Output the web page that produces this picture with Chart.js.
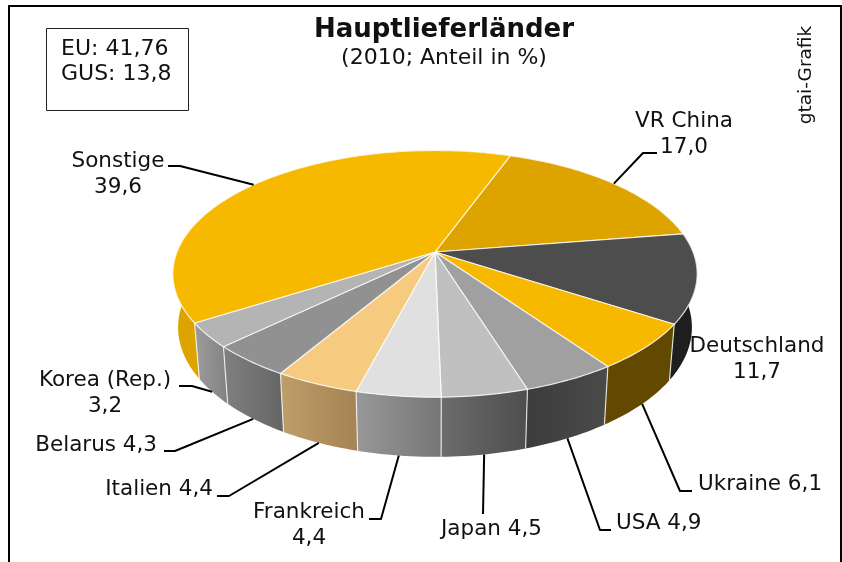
<!DOCTYPE html>
<html><head><meta charset="utf-8">
<script src="https://cdn.jsdelivr.net/npm/chart.js@4"></script>
<style>html,body{margin:0;padding:0;background:#fff}canvas{display:block}</style>
</head><body>
<canvas id="c" width="842" height="562"></canvas>
<script>
const categories = ["VR China","Deutschland","Ukraine","USA","Japan","Frankreich","Italien","Belarus","Korea (Rep.)","Sonstige"];
const shares = [17.0,11.7,6.1,4.9,4.5,4.4,4.4,4.3,3.2,39.6];
const topColors = ["#DDA400","#4D4D4D","#F7B900","#A0A0A0","#C0C0C0","#E0E0E0","#F6CB80","#919191","#B4B4B4","#F7B900"];
const wallLeft  = ["#DDA400","#1E1E1E","#634800","#3C3C3C","#6C6C6C","#989898","#BE9E68","#808080","#9C9C9C","#DDA400"];
const wallRight = ["#DDA400","#1E1E1E","#634800","#4A4A4A","#4E4E4E","#767676","#A58355","#656565","#828282","#DDA400"];
const titleText = "Hauptlieferländer";
const subtitleText = "(2010; Anteil in %)";
const sourceText = "gtai-Grafik";
const noteLines = ["EU: 41,76","GUS: 13,8"];

const fmt = v => v.toFixed(1).replace(".", ",");
const FONT = '"DejaVu Sans"';

/* perspective of the pie: front edge is nearer to the viewer */
const persp = {k:0.177, ax:1.028, ay:0.476, wallX:0.98, wallY:1.05, wallD:52.4};
function rim(arc, a){
  const u=Math.cos(a), v=Math.sin(a), w=1-persp.k*v, R=arc.outerRadius;
  return {x:arc.x+persp.ax*R*u/w, y:arc.y+persp.ay*R*v/w};
}
function floor(arc, a){
  const p=rim(arc,a);
  return {x:arc.x+(p.x-arc.x)*persp.wallX, y:arc.y+(p.y-arc.y)*persp.wallY+persp.wallD};
}
function samples(arc){
  const n=Math.max(2,Math.ceil((arc.endAngle-arc.startAngle)/0.02)), out=[];
  for(let i=0;i<=n;i++) out.push(arc.startAngle+(arc.endAngle-arc.startAngle)*i/n);
  return out;
}
const EDGE='rgba(255,255,255,0.78)';

/* how each label sits: text lines with anchor, leader bends, end on rim or wall bottom */
const labelLayout = [
 {lines:[[684,121,'center',0],[684,147,'center',1]], bends:[[657,153],[643,153]], on:'rim'},
 {lines:[[757,346,'center',0],[757,372,'center',1]], bends:null},
 {lines:[[698,484,'left',2]], bends:[[692,491],[680,491]], on:'floor'},
 {lines:[[616,523,'left',2]], bends:[[611,530],[600,530]], on:'floor'},
 {lines:[[441,529,'left',2]], bends:[[483,514]], on:'floor'},
 {lines:[[309,512,'center',0],[309,538,'center',1]], bends:[[369,519],[381,519]], on:'floor'},
 {lines:[[213,489,'right',2]], bends:[[217,496],[229,496]], on:'floor'},
 {lines:[[157,445,'right',2]], bends:[[164,451],[175,451]], on:'floor'},
 {lines:[[105,380,'center',0],[105,406,'center',1]], bends:[[179,386],[192,386]], on:'floor'},
 {lines:[[118,161,'center',0],[118,187,'center',1]], bends:[[168,166],[180,166]], on:'rim'}
];

const pie3d = {
  id:'pie3d',
  beforeDatasetsDraw(chart){
    const ctx=chart.ctx, arcs=chart.getDatasetMeta(0).data;
    ctx.save();
    /* frame */
    ctx.strokeStyle='#000';ctx.lineWidth=2;
    ctx.beginPath();ctx.moveTo(9,562);ctx.lineTo(9,6);ctx.lineTo(841,6);ctx.lineTo(841,562);ctx.stroke();

    /* walls */
    arcs.forEach((arc,i)=>{
      const as=samples(arc), top=as.map(a=>rim(arc,a)), bot=as.map(a=>floor(arc,a));
      const xs=top.concat(bot).map(p=>p.x);
      const g=ctx.createLinearGradient(Math.min(...xs),0,Math.max(...xs),0);
      g.addColorStop(0,wallLeft[i]);g.addColorStop(1,wallRight[i]);
      ctx.fillStyle=g;
      ctx.beginPath();
      top.forEach((p,j)=>j?ctx.lineTo(p.x,p.y):ctx.moveTo(p.x,p.y));
      bot.reverse().forEach(p=>ctx.lineTo(p.x,p.y));
      ctx.closePath();ctx.fill();
    });
    /* wall seams */
    ctx.strokeStyle=EDGE;ctx.lineWidth=1.2;
    arcs.forEach(arc=>{
      const a=rim(arc,arc.startAngle), b=floor(arc,arc.startAngle);
      ctx.beginPath();ctx.moveTo(a.x,a.y);ctx.lineTo(b.x,b.y);ctx.stroke();
    });
    /* top faces */
    arcs.forEach((arc,i)=>{
      ctx.fillStyle=topColors[i];
      ctx.strokeStyle=EDGE;ctx.lineWidth=1.2;
      ctx.beginPath();ctx.moveTo(arc.x,arc.y);
      samples(arc).forEach(a=>{const p=rim(arc,a);ctx.lineTo(p.x,p.y);});
      ctx.closePath();ctx.fill();ctx.stroke();
    });

    /* leaders */
    ctx.strokeStyle='#000';ctx.lineWidth=2;ctx.lineJoin='round';
    arcs.forEach((arc,i)=>{
      const L=labelLayout[i];
      if(!L.bends) return;
      const mid=(arc.startAngle+arc.endAngle)/2;
      const end=L.on==='rim'?rim(arc,mid):floor(arc,mid);
      ctx.beginPath();
      L.bends.forEach((b,j)=>j?ctx.lineTo(b[0],b[1]):ctx.moveTo(b[0],b[1]));
      ctx.lineTo(end.x,end.y);ctx.stroke();
    });

    /* labels */
    ctx.fillStyle='#111';ctx.textBaseline='middle';
    ctx.font='21.5px '+FONT;
    labelLayout.forEach((L,i)=>{
      L.lines.forEach(([x,y,al,kind])=>{
        ctx.textAlign=al;
        const t=kind===0?categories[i]:kind===1?fmt(shares[i]):categories[i]+' '+fmt(shares[i]);
        ctx.fillText(t,x,y);
      });
    });

    /* headings */
    ctx.textAlign='center';
    ctx.font='bold 26px '+FONT;ctx.fillText(titleText,444,30);
    ctx.font='22px '+FONT;ctx.fillText(subtitleText,444,58);

    /* note box */
    ctx.strokeStyle='#222';ctx.lineWidth=1;ctx.strokeRect(46.5,28.5,142,82);
    ctx.textAlign='left';
    ctx.fillText(noteLines[0],61,49);ctx.fillText(noteLines[1],61,74);

    /* source */
    ctx.translate(806,75);ctx.rotate(-Math.PI/2);
    ctx.textAlign='center';ctx.font='18.5px '+FONT;
    ctx.fillText(sourceText,0,0);
    ctx.restore();
    return false;
  }
};

new Chart(document.getElementById('c'),{
  type:'pie',
  data:{labels:categories,datasets:[{data:shares,backgroundColor:topColors}]},
  plugins:[pie3d],
  options:{
    responsive:false,animation:false,rotation:19.9,
    layout:{padding:{left:28,right:0,top:0,bottom:58}},
    plugins:{legend:{display:false},tooltip:{enabled:false},title:{display:false}}
  }
});
</script>
</body></html>
